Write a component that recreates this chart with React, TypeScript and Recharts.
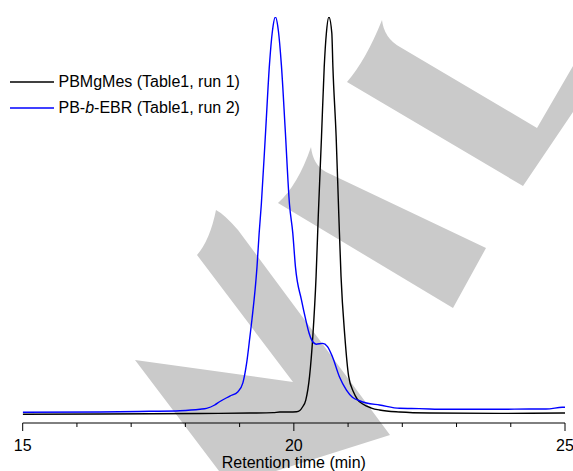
import React from "react";
import { LineChart, Line, XAxis, YAxis, Legend } from "recharts";

// GPC traces (normalised detector signal, peak = 100)
const blackTime = [
  15.0, 16.42, 18.27, 19.19, 19.62, 19.74, 19.92, 20.05, 20.11, 20.16, 20.22,
  20.29, 20.35, 20.41, 20.45, 20.51, 20.56, 20.6, 20.646, 20.7, 20.72, 20.78,
  20.83, 20.87, 20.94, 21.01, 21.1, 21.17, 21.27, 21.43, 21.58, 21.95, 22.5,
  23.79, 24.95, 25.0,
];
const blackSignal = [
  0.43, 0.5, 0.63, 0.75, 0.85, 1.0, 1.0, 1.08, 1.38, 2.26, 4.0, 10, 20, 35, 50,
  70, 87.5, 96, 100, 96, 87.5, 70, 50, 35, 20, 10, 6, 4.2, 3.0, 2.0, 1.5, 1.0,
  0.75, 0.65, 0.75, 0.75,
];

const blueTime = [
  15.0, 16.42, 17.34, 17.9, 18.27, 18.39, 18.54, 18.63, 18.82, 18.97, 19.06,
  19.13, 19.19, 19.23, 19.32, 19.36, 19.4, 19.48, 19.55, 19.605, 19.66, 19.715,
  19.77, 19.84, 19.92, 19.98, 20.03, 20.14, 20.22, 20.28, 20.33, 20.41, 20.53,
  20.62, 20.71, 20.84, 20.97, 21.08, 21.21, 21.34, 21.58, 21.95, 22.31, 22.81,
  23.79, 24.34, 24.65, 24.95, 25.0,
];
const blueSignal = [
  0.93, 1.0, 1.18, 1.33, 1.7, 1.93, 2.76, 3.58, 5.0, 6.1, 8.3, 13.3, 19.9,
  24.5, 37.3, 45.8, 53, 71.5, 88, 96.5, 100, 96.5, 88, 72, 53, 45.9, 37.3,
  29.1, 24.1, 20.8, 19.0, 18.0, 18.2, 17.4, 14.9, 9.85, 6.5, 4.7, 3.83, 3.26,
  2.76, 1.93, 1.85, 1.68, 1.68, 1.75, 1.75, 2.18, 2.2,
];

const xTicks = [15, 16, 17, 18, 19, 20, 21, 22, 23, 24, 25];
const labelledTicks = [15, 20, 25];

const FONT = '"Liberation Sans", Arial, sans-serif';

const blackRows = blackTime.map((t, i) => ({ t, v: blackSignal[i] }));
const blueRows = blueTime.map((t, i) => ({ t, v: blueSignal[i] }));

const SERIES = [
  {
    key: "black",
    name: "PBMgMes (Table1, run 1)",
    label: <>PBMgMes (Table1, run 1)</>,
    color: "#000000",
    rows: blackRows,
  },
  {
    key: "blue",
    name: "PB-b-EBR (Table1, run 2)",
    label: (
      <>
        PB-<i>b</i>-EBR (Table1, run 2)
      </>
    ),
    color: "#0000ff",
    rows: blueRows,
  },
];

function AxisTick({ x, y, payload }: any) {
  const major = labelledTicks.includes(payload.value);
  return (
    <g>
      <line x1={x} x2={x} y1={y} y2={y + (major ? 8 : 4)} stroke="#000" strokeWidth={1} />
      {major && (
        <text x={x} y={y + 28} textAnchor="middle" fontSize={16} fontFamily={FONT} fill="#000">
          {payload.value}
        </text>
      )}
    </g>
  );
}

// legend keeps the plotting order (recharts would sort it by name)
function LegendBox() {
  return (
    <div style={{ fontFamily: FONT, fontSize: 16, color: "#000" }}>
      {SERIES.map((s) => (
        <div key={s.key} style={{ display: "flex", alignItems: "center", height: 25.7 }}>
          <svg width={44} height={4} style={{ marginLeft: 9.5 }}>
            <line x1={0} x2={44} y1={2} y2={2} stroke={s.color} strokeWidth={1.5} />
          </svg>
          <span style={{ marginLeft: 5, whiteSpace: "nowrap" }}>{s.label}</span>
        </div>
      ))}
    </div>
  );
}

// faint publisher watermark behind the plot
function Watermark() {
  return (
    <svg width={573} height={471} style={{ position: "absolute", left: 0, top: 0 }}>
      <g fill="#cacaca">
        <path d="M382,20 Q384,38 400,47 L537,128 L573,66 L573,112 L523,186 L347,82 Q366,60 382,20 Z" />
        <path d="M311,147 Q313,165 326,172 L486,248 L453,308 L278,203 Q298,185 311,147 Z" />
        <path d="M216,210 Q224,214 238,230 L390,435 L276,471 L219,471 L135,360 L293,382 L197,255 Q210,240 216,210 Z" />
      </g>
    </svg>
  );
}

export default function App() {
  return (
    <div style={{ position: "absolute", left: 0, top: 0, width: 573, height: 471, background: "#fff" }}>
      <Watermark />
      <div style={{ position: "absolute", left: 0, top: 0 }}>
        <LineChart width={573} height={471} margin={{ top: 17, right: 8, bottom: 0, left: 22.7 }}>
          <XAxis
            type="number"
            dataKey="t"
            domain={[15, 25]}
            ticks={xTicks}
            interval={0}
            allowDataOverflow
            height={48}
            tickSize={0}
            tickMargin={0}
            tickLine={false}
            tick={<AxisTick />}
            axisLine={{ stroke: "#000", strokeWidth: 1 }}
            label={{
              value: "Retention time (min)",
              position: "insideBottom",
              offset: 3,
              fontSize: 16,
              fontFamily: FONT,
              fill: "#000",
            }}
          />
          <YAxis hide type="number" domain={[-1.75, 100]} allowDataOverflow />
          <Legend
            layout="vertical"
            align="center"
            verticalAlign="middle"
            width={300}
            wrapperStyle={{ left: 0, top: 69.2 }}
            content={<LegendBox />}
          />
          {SERIES.map((s) => (
            <Line
              key={s.key}
              data={s.rows}
              type="monotone"
              dataKey="v"
              name={s.name}
              stroke={s.color}
              strokeWidth={1.4}
              dot={false}
              activeDot={false}
              isAnimationActive={false}
            />
          ))}
        </LineChart>
      </div>
    </div>
  );
}
